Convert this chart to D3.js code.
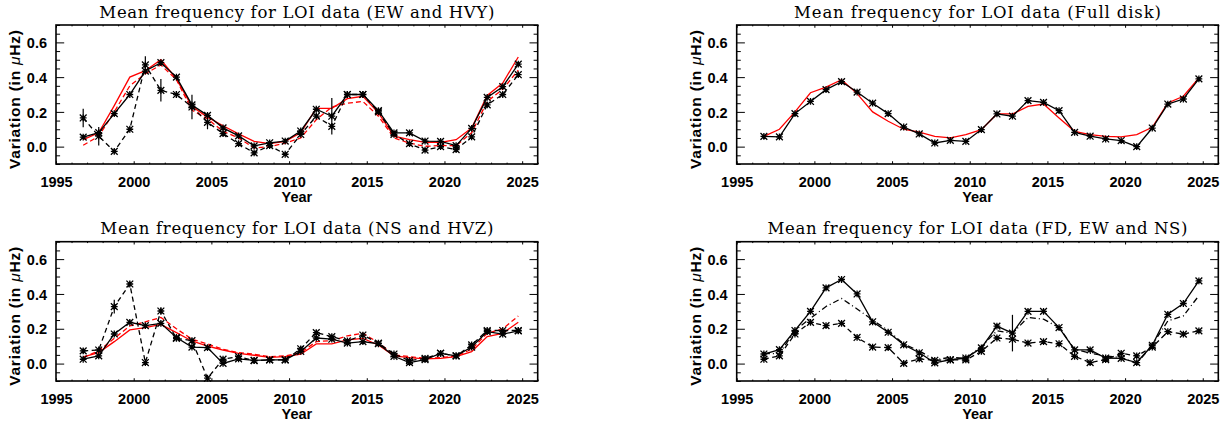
<!DOCTYPE html>
<html>
<head>
<meta charset="utf-8">
<script src="https://cdn.jsdelivr.net/npm/d3@7"></script>
<style>
  html, body { margin: 0; padding: 0; background: #fff; }
  svg { display: block; }
</style>
</head>
<body>
<svg id="chart" width="1231" height="423"></svg>
<script>
// ---------------- DATA ----------------
const years = [1996.75, 1997.75, 1998.75, 1999.75, 2000.75, 2001.75, 2002.75, 2003.75, 2004.75, 2005.75,
               2006.75, 2007.75, 2008.75, 2009.75, 2010.75, 2011.75, 2012.75, 2013.75, 2014.75, 2015.75,
               2016.75, 2017.75, 2018.75, 2019.75, 2020.75, 2021.75, 2022.75, 2023.75, 2024.75];

// EW (black solid, asterisks)
const ewVal = [0.055, 0.08, 0.19, 0.30, 0.435, 0.483, 0.40, 0.24, 0.18, 0.108,
               0.062, 0.004, 0.022, 0.032, 0.09, 0.215, 0.175, 0.30, 0.30, 0.207,
               0.079, 0.079, 0.032, 0.03, 0.006, 0.105, 0.283, 0.345, 0.475];
const ewErr = [0.01, 0.01, 0.01, 0.01, 0.012, 0.012, 0.01, 0.01, 0.01, 0.01,
               0.01, 0.01, 0.01, 0.01, 0.01, 0.01, 0.105, 0.01, 0.01, 0.01,
               0.01, 0.01, 0.01, 0.01, 0.01, 0.01, 0.01, 0.01, 0.01];
// HVY (black dashed, asterisks)
const hvyVal = [0.165, 0.06, -0.027, 0.10, 0.47, 0.324, 0.30, 0.228, 0.14, 0.075,
                0.017, -0.036, 0.006, -0.044, 0.07, 0.175, 0.117, 0.30, 0.30, 0.20,
                0.07, 0.017, -0.02, 0.0, -0.017, 0.056, 0.24, 0.30, 0.414];
const hvyErr = [0.053, 0.053, 0.012, 0.012, 0.05, 0.065, 0.02, 0.07, 0.04, 0.015,
                0.01, 0.01, 0.01, 0.01, 0.01, 0.015, 0.015, 0.01, 0.01, 0.01,
                0.01, 0.01, 0.01, 0.01, 0.01, 0.01, 0.015, 0.015, 0.015];
// model curves for EW / HVY (red solid / red dashed)
const ewModel = [0.04, 0.08, 0.236, 0.40, 0.437, 0.50, 0.39, 0.23, 0.17, 0.12,
                 0.073, 0.03, 0.017, 0.03, 0.08, 0.22, 0.22, 0.276, 0.29, 0.194,
                 0.06, 0.04, 0.025, 0.025, 0.04, 0.107, 0.295, 0.366, 0.516];
const hvyModel = [0.008, 0.06, 0.20, 0.35, 0.42, 0.47, 0.385, 0.21, 0.16, 0.088,
                  0.05, -0.008, 0.0, 0.02, 0.05, 0.155, 0.228, 0.25, 0.26, 0.175,
                  0.05, 0.02, 0.002, 0.006, 0.006, 0.08, 0.26, 0.33, 0.44];

// Full disk (black solid, asterisks) and its model (red solid)
const fdVal = [0.059, 0.056, 0.19, 0.26, 0.328, 0.374, 0.314, 0.25, 0.19, 0.113,
               0.073, 0.021, 0.036, 0.03, 0.098, 0.188, 0.175, 0.265, 0.255, 0.207,
               0.082, 0.06, 0.044, 0.035, 0.0, 0.107, 0.245, 0.274, 0.39];
const fdErr = [0.005, 0.005, 0.005, 0.005, 0.005, 0.005, 0.005, 0.005, 0.005, 0.005,
               0.005, 0.005, 0.005, 0.005, 0.005, 0.005, 0.005, 0.005, 0.005, 0.005,
               0.005, 0.005, 0.005, 0.005, 0.005, 0.005, 0.005, 0.005, 0.005];
const fdModel = [0.059, 0.10, 0.20, 0.31, 0.343, 0.385, 0.305, 0.20, 0.146, 0.10,
                 0.084, 0.059, 0.05, 0.069, 0.098, 0.188, 0.188, 0.232, 0.245, 0.165,
                 0.088, 0.069, 0.059, 0.056, 0.069, 0.111, 0.251, 0.29, 0.395];

// NS (black solid, asterisks)
const nsVal = [0.025, 0.044, 0.17, 0.237, 0.218, 0.231, 0.15, 0.095, 0.092, 0.001,
               0.027, 0.019, 0.021, 0.021, 0.07, 0.147, 0.14, 0.118, 0.126, 0.114,
               0.042, 0.006, 0.023, 0.059, 0.044, 0.095, 0.183, 0.169, 0.188];
const nsErr = [0.01, 0.01, 0.01, 0.01, 0.01, 0.01, 0.01, 0.01, 0.01, 0.01,
               0.01, 0.01, 0.01, 0.01, 0.01, 0.01, 0.01, 0.01, 0.01, 0.01,
               0.01, 0.01, 0.01, 0.01, 0.01, 0.01, 0.01, 0.01, 0.01];
// HVZ (black dashed, asterisks)
const hvzVal = [0.073, 0.078, 0.327, 0.457, 0.006, 0.302, 0.145, 0.132, -0.084, 0.025,
                0.04, 0.017, 0.021, 0.021, 0.085, 0.178, 0.155, 0.13, 0.164, 0.117,
                0.055, 0.017, 0.03, 0.059, 0.044, 0.107, 0.19, 0.19, 0.19];
const hvzErr = [0.015, 0.01, 0.04, 0.015, 0.01, 0.02, 0.01, 0.015, 0.01, 0.01,
                0.01, 0.01, 0.01, 0.01, 0.015, 0.015, 0.01, 0.01, 0.015, 0.01,
                0.01, 0.01, 0.01, 0.01, 0.01, 0.01, 0.01, 0.01, 0.01];
// models for NS / HVZ (red solid / red dashed)
const nsModel = [0.038, 0.063, 0.126, 0.193, 0.206, 0.225, 0.178, 0.13, 0.101, 0.078,
                 0.059, 0.048, 0.036, 0.04, 0.054, 0.113, 0.113, 0.136, 0.145, 0.107,
                 0.044, 0.034, 0.027, 0.03, 0.04, 0.069, 0.155, 0.174, 0.237];
const hvzModel = [0.034, 0.073, 0.145, 0.216, 0.24, 0.265, 0.20, 0.14, 0.113, 0.082,
                  0.063, 0.054, 0.04, 0.044, 0.063, 0.126, 0.132, 0.159, 0.174, 0.12,
                  0.05, 0.04, 0.03, 0.034, 0.044, 0.082, 0.174, 0.20, 0.273];

const xMajorTicks = [1995, 2000, 2005, 2010, 2015, 2020, 2025];
const yMajorTicks = [0.0, 0.2, 0.4, 0.6];
const xDomain = [1995, 2026];
const yDomain = [-0.1, 0.7];

const titles = [
  "Mean frequency for LOI data (EW and HVY)",
  "Mean frequency for LOI data (Full disk)",
  "Mean frequency for LOI data (NS and HVZ)",
  "Mean frequency for LOI data (FD, EW and NS)"
];
const xTitle = "Year";

// ---------------- LAYOUT ----------------
const panels = [
  { title: titles[0], titleLen: 395, left: 56, right: 537.7, top: 25, bottom: 164,
    series: [
      { v: ewModel, color: "#ff0000", dash: null },
      { v: hvyModel, color: "#ff0000", dash: "5,3" },
      { v: ewVal, e: ewErr, color: "#000", dash: null, marker: true },
      { v: hvyVal, e: hvyErr, color: "#000", dash: "5,3.5", marker: true }
    ]},
  { title: titles[1], titleLen: 367, left: 736.7, right: 1218.3, top: 25, bottom: 164,
    series: [
      { v: fdModel, color: "#ff0000", dash: null },
      { v: fdVal, e: fdErr, color: "#000", dash: null, marker: true }
    ]},
  { title: titles[2], titleLen: 393, left: 56, right: 537.7, top: 241.7, bottom: 381,
    series: [
      { v: nsModel, color: "#ff0000", dash: null },
      { v: hvzModel, color: "#ff0000", dash: "5,3" },
      { v: nsVal, e: nsErr, color: "#000", dash: null, marker: true },
      { v: hvzVal, e: hvzErr, color: "#000", dash: "5,3.5", marker: true }
    ]},
  { title: titles[3], titleLen: 420, left: 736.7, right: 1218.3, top: 241.7, bottom: 381,
    series: [
      { v: fdVal, color: "#000", dash: "6,3,1,3" },
      { v: nsVal, e: nsErr, color: "#000", dash: "5,3.5", marker: true },
      { v: ewVal, e: ewErr, color: "#000", dash: null, marker: true }
    ]}
];

const svg = d3.select("#chart");
const labelFont = "'Liberation Sans', Arial, Helvetica, sans-serif";
const titleFont = "'DejaVu Serif', 'Liberation Serif', serif";

const xMinor = d3.range(1996, 2027).filter(d => !xMajorTicks.includes(d));
const yMinor = d3.range(-2, 15).map(i => Math.round(i * 5) / 100).filter(d => !yMajorTicks.some(m => Math.abs(m - d) < 1e-9));

panels.forEach(p => {
  const x = d3.scaleLinear().domain(xDomain).range([p.left, p.right]);
  const y = d3.scaleLinear().domain(yDomain).range([p.bottom, p.top]);
  const g = svg.append("g");
  const W = p.right - p.left, H = p.bottom - p.top;
  const xTickMaj = 0.02 * H, yTickMaj = 0.02 * W * 0.85;

  const mk = (axisFn, scale, vals, len, fmt) =>
    axisFn(scale).tickValues(vals).tickSizeInner(-len).tickSizeOuter(0).tickFormat(fmt);

  const fmtY = d3.format(".1f");
  const axes = [
    { a: mk(d3.axisBottom, x, xMajorTicks, xTickMaj, d3.format("d")), t: `translate(0,${p.bottom})`, kind: "xb" },
    { a: mk(d3.axisBottom, x, xMinor, xTickMaj / 2, ""), t: `translate(0,${p.bottom})` },
    { a: mk(d3.axisTop, x, xMajorTicks, xTickMaj, ""), t: `translate(0,${p.top})` },
    { a: mk(d3.axisTop, x, xMinor, xTickMaj / 2, ""), t: `translate(0,${p.top})` },
    { a: mk(d3.axisLeft, y, yMajorTicks, yTickMaj, fmtY), t: `translate(${p.left},0)`, kind: "yl" },
    { a: mk(d3.axisLeft, y, yMinor, yTickMaj / 2, ""), t: `translate(${p.left},0)` },
    { a: mk(d3.axisRight, y, yMajorTicks, yTickMaj, ""), t: `translate(${p.right},0)` },
    { a: mk(d3.axisRight, y, yMinor, yTickMaj / 2, ""), t: `translate(${p.right},0)` }
  ];
  axes.forEach(ax => {
    const ag = g.append("g").attr("transform", ax.t).call(ax.a);
    ag.select(".domain").remove();
    ag.selectAll(".tick line").attr("stroke", "#000").attr("stroke-width", 1);
    const tx = ag.selectAll(".tick text")
      .attr("fill", "#000")
      .style("font-family", labelFont)
      .style("font-weight", "bold")
      .style("font-size", "14.5px");
    if (ax.kind === "xb") tx.attr("y", 0).attr("dy", 0).attr("transform", "translate(0,23)");
    if (ax.kind === "yl") tx.attr("x", -9).attr("dy", "0.36em");
  });

  // box
  g.append("rect")
    .attr("x", p.left).attr("y", p.top).attr("width", W).attr("height", H)
    .attr("fill", "none").attr("stroke", "#000").attr("stroke-width", 1.6);

  // series
  const line = d3.line().x((d, i) => x(years[i])).y(d => y(d));
  p.series.forEach(s => {
    g.append("path")
      .datum(s.v)
      .attr("d", line)
      .attr("fill", "none")
      .attr("stroke", s.color)
      .attr("stroke-width", 1.3)
      .attr("stroke-dasharray", s.dash);
    if (s.e) {
      g.append("g").selectAll("line").data(s.v).join("line")
        .attr("x1", (d, i) => x(years[i])).attr("x2", (d, i) => x(years[i]))
        .attr("y1", (d, i) => y(d - s.e[i])).attr("y2", (d, i) => y(d + s.e[i]))
        .attr("stroke", s.color).attr("stroke-width", 1.2);
    }
    if (s.marker) {
      const r = 3.4;
      g.append("g").selectAll("path").data(s.v).join("path")
        .attr("transform", (d, i) => `translate(${x(years[i])},${y(d)})`)
        .attr("d", `M${-r},${-r}L${r},${r}M${-r},${r}L${r},${-r}M${-r},0L${r},0M0,${-r}L0,${r}`)
        .attr("fill", "none").attr("stroke", s.color).attr("stroke-width", 1.3);
    }
  });

  // title
  g.append("text")
    .attr("x", (p.left + p.right) / 2).attr("y", p.top - 7.5)
    .attr("text-anchor", "middle")
    .attr("textLength", p.titleLen).attr("lengthAdjust", "spacing")
    .style("font-family", titleFont).style("font-size", "16.5px")
    .attr("fill", "#000")
    .text(p.title);

  // x title
  g.append("text")
    .attr("x", (p.left + p.right) / 2).attr("y", p.bottom + 38)
    .attr("text-anchor", "middle")
    .style("font-family", labelFont).style("font-weight", "bold").style("font-size", "14.5px")
    .attr("fill", "#000")
    .text(xTitle);

  // y title
  const yt = g.append("text")
    .attr("transform", `translate(${p.left - 36},${(p.top + p.bottom) / 2 + 5}) rotate(-90)`)
    .attr("text-anchor", "middle")
    .attr("textLength", 139).attr("lengthAdjust", "spacing")
    .style("font-family", labelFont).style("font-weight", "bold").style("font-size", "15.5px")
    .attr("fill", "#000");
  yt.append("tspan").text("Variation (in ");
  yt.append("tspan").style("font-style", "italic").style("font-weight", "normal").text("\u03BC");
  yt.append("tspan").text("Hz)");
});
</script>
</body>
</html>
